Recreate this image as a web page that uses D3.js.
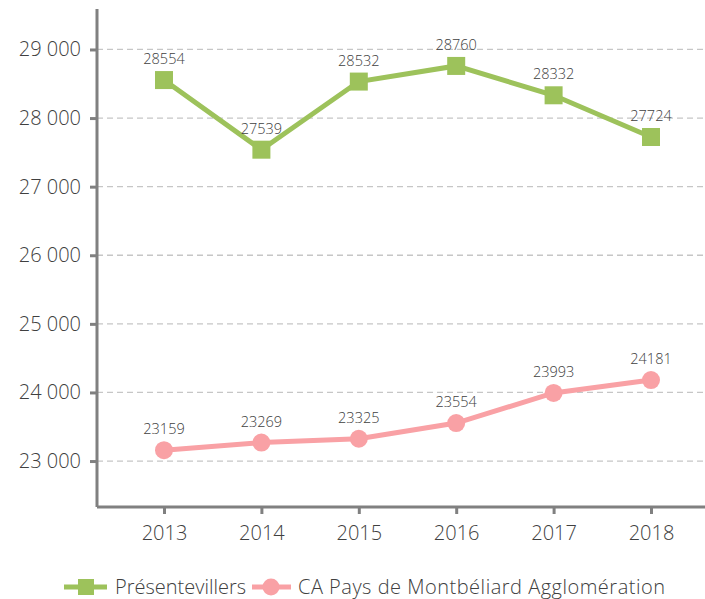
<!DOCTYPE html>
<html>
<head>
<meta charset="utf-8">
<script src="https://cdn.jsdelivr.net/npm/d3@7"></script>
<style>
  html, body { margin: 0; background: #fff; overflow: hidden; }
  svg { display: block; }
  text { font-family: "Open Sans", Lato, sans-serif; font-weight: 300; fill: #404040; }
</style>
</head>
<body>
<div id="chart"></div>
<script>
// Data
var years = ["2013", "2014", "2015", "2016", "2017", "2018"];
var presentevillers = [28554, 27539, 28532, 28760, 28332, 27724];
var caPays = [23159, 23269, 23325, 23554, 23993, 24181];
var yTicks = [23000, 24000, 25000, 26000, 27000, 28000, 29000];
var seriesNames = ["Présentevillers", "CA Pays de Montbéliard Agglomération"];

var svgWidth = 705;
var svgHeight = 599;

var margin = { top: 9, right: 0, bottom: 92, left: 97 };
var chartWidth = svgWidth - margin.left - margin.right;
var chartHeight = svgHeight - margin.top - margin.bottom;

var svg = d3.select("#chart")
  .append("svg")
  .attr("width", svgWidth)
  .attr("height", svgHeight);

var chartGroup = svg.append("g")
  .attr("transform", `translate(${margin.left}, ${margin.top})`);

// scales
var xScale = d3.scalePoint()
  .domain(years)
  .range([67, 554]);

var yScale = d3.scaleLinear()
  .domain([22330, 29590])
  .range([chartHeight, 0]);

// gridlines
chartGroup.append("g")
  .selectAll("line")
  .data(yTicks)
  .enter()
  .append("line")
  .attr("x1", 0)
  .attr("x2", chartWidth)
  .attr("y1", d => yScale(d))
  .attr("y2", d => yScale(d))
  .attr("stroke", "#c6c6c6")
  .attr("stroke-width", 1.3)
  .attr("stroke-dasharray", "6,4");

// axes
var leftAxis = d3.axisLeft(yScale)
  .tickValues(yTicks)
  .tickSize(7)
  .tickPadding(9)
  .tickFormat(d => d3.format(",")(d).replace(",", " "));

var bottomAxis = d3.axisBottom(xScale)
  .tickSize(7)
  .tickPadding(12);

var yAxis = chartGroup.append("g").call(leftAxis);
var xAxis = chartGroup.append("g")
  .attr("transform", `translate(0, ${chartHeight})`)
  .call(bottomAxis);

[yAxis, xAxis].forEach(function(ax) {
  ax.select(".domain").attr("stroke", "#808080").attr("stroke-width", 3);
  ax.selectAll(".tick line").attr("stroke", "#808080").attr("stroke-width", 3);
  ax.selectAll(".tick text")
    .attr("font-size", 20)
    .attr("fill", "#404040")
    .style("font-family", '"Open Sans", Lato, sans-serif')
    .style("font-weight", 300);
});
yAxis.select(".domain").attr("d", `M0,0V${chartHeight}`);
xAxis.select(".domain").attr("d", `M0,0H${chartWidth}`);

var green = "#9dc25b";
var pink = "#f9a1a5";

var line = d3.line()
  .x((d, i) => xScale(years[i]))
  .y(d => yScale(d));

// Présentevillers
chartGroup.append("path")
  .datum(presentevillers)
  .attr("d", line)
  .attr("fill", "none")
  .attr("stroke", green)
  .attr("stroke-width", 5);

chartGroup.selectAll(".sq")
  .data(presentevillers)
  .enter()
  .append("rect")
  .attr("class", "sq")
  .attr("x", (d, i) => xScale(years[i]) - 9)
  .attr("y", d => yScale(d) - 9)
  .attr("width", 18)
  .attr("height", 18)
  .attr("fill", green);

// CA Pays
chartGroup.append("path")
  .datum(caPays)
  .attr("d", line)
  .attr("fill", "none")
  .attr("stroke", pink)
  .attr("stroke-width", 5);

chartGroup.selectAll(".dot")
  .data(caPays)
  .enter()
  .append("circle")
  .attr("class", "dot")
  .attr("cx", (d, i) => xScale(years[i]))
  .attr("cy", d => yScale(d))
  .attr("r", 9)
  .attr("fill", pink);

// data labels
[presentevillers, caPays].forEach(function(series) {
  chartGroup.append("g")
    .selectAll("text")
    .data(series)
    .enter()
    .append("text")
    .attr("x", (d, i) => xScale(years[i]))
    .attr("y", d => yScale(d) - 16)
    .attr("text-anchor", "middle")
    .attr("font-size", 14.5)
    .text(d => d);
});

// legend
var legend = svg.append("g").attr("transform", "translate(0, 587)");

legend.append("line")
  .attr("x1", 64).attr("x2", 107).attr("y1", 0).attr("y2", 0)
  .attr("stroke", green).attr("stroke-width", 5);
legend.append("rect")
  .attr("x", 78).attr("y", -8).attr("width", 16).attr("height", 16)
  .attr("fill", green);
legend.append("text")
  .attr("x", 115).attr("y", 7)
  .attr("font-size", 20)
  .attr("textLength", 131)
  .attr("lengthAdjust", "spacing")
  .text(seriesNames[0]);

legend.append("line")
  .attr("x1", 252).attr("x2", 291).attr("y1", 0).attr("y2", 0)
  .attr("stroke", pink).attr("stroke-width", 5);
legend.append("circle")
  .attr("cx", 271).attr("cy", 0).attr("r", 8.5)
  .attr("fill", pink);
legend.append("text")
  .attr("x", 298).attr("y", 7)
  .attr("font-size", 20)
  .attr("textLength", 367)
  .attr("lengthAdjust", "spacing")
  .text(seriesNames[1]);
</script>
</body>
</html>
